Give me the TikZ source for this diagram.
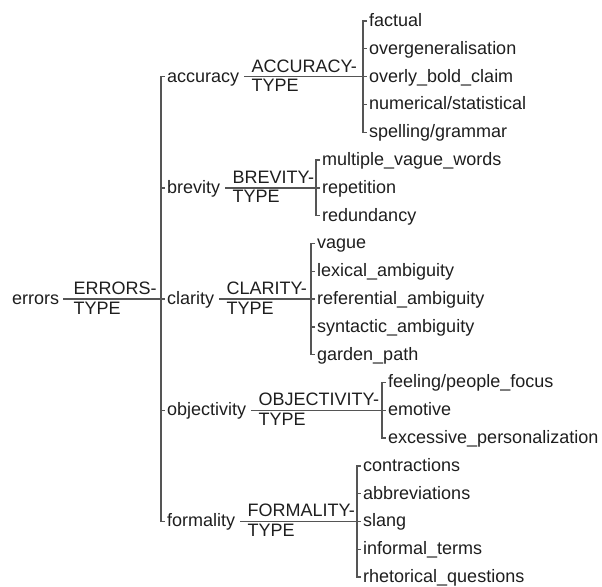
\documentclass[tikz,border=0pt]{standalone}
\usepackage{fontspec}
\setmainfont{Liberation Sans}
\definecolor{txt}{HTML}{1E1E1E}
\definecolor{lc}{HTML}{555555}
\begin{document}
\begin{tikzpicture}[x=1pt,y=-1pt,
 lbl/.style={font=\fontsize{18}{20}\selectfont, text=txt, inner ysep=0pt, inner xsep=2pt, text height=14pt, text depth=3pt, anchor=west},
 frac/.style={font=\fontsize{18}{20}\selectfont, text=txt, inner sep=0pt, anchor=base west},
 ln/.style={draw=lc, line width=1.4pt}]
\useasboundingbox (0,0) rectangle (602,586);
% root and categories
\node[lbl] (root) at (10,299) {errors};
\node[lbl] (acc) at (165,76.6) {accuracy};
\node[lbl] (brev) at (165,187.8) {brevity};
\node[lbl] (clar) at (165,299.0) {clarity};
\node[lbl] (obj) at (165,410.2) {objectivity};
\node[lbl] (form) at (165,521.4) {formality};
% leaves: accuracy
\node[lbl] (a0) at (367,21.0) {factual};
\node[lbl] (a1) at (367,48.8) {overgeneralisation};
\node[lbl] (a2) at (367,76.6) {overly\_bold\_claim};
\node[lbl] (a3) at (367,104.4) {numerical/statistical};
\node[lbl] (a4) at (367,132.2) {spelling/grammar};
% brevity
\node[lbl] (b0) at (320,160.0) {multiple\_vague\_words};
\node[lbl] (b1) at (320,187.8) {repetition};
\node[lbl] (b2) at (320,215.6) {redundancy};
% clarity
\node[lbl] (c0) at (315,243.4) {vague};
\node[lbl] (c1) at (315,271.2) {lexical\_ambiguity};
\node[lbl] (c2) at (315,299.0) {referential\_ambiguity};
\node[lbl] (c3) at (315,326.8) {syntactic\_ambiguity};
\node[lbl] (c4) at (315,354.6) {garden\_path};
% objectivity
\node[lbl] (o0) at (386,382.4) {feeling/people\_focus};
\node[lbl] (o1) at (386,410.2) {emotive};
\node[lbl] (o2) at (386,438.0) {excessive\_personalization};
% formality
\node[lbl] (f0) at (361,465.8) {contractions};
\node[lbl] (f1) at (361,493.6) {abbreviations};
\node[lbl] (f2) at (361,521.4) {slang};
\node[lbl] (f3) at (361,549.2) {informal\_terms};
\node[lbl] (f4) at (361,577.0) {rhetorical\_questions};
% bracket x positions
\coordinate (T) at (161,0);
\coordinate (AB) at (363,0);
\coordinate (BB) at (316,0);
\coordinate (CB) at (311,0);
\coordinate (OB) at (382,0);
\coordinate (FB) at (357,0);
% top bracket
\draw[ln] (acc.west) -- (T|-acc.west) -- (T|-form.west) -- (form.west);
\draw[ln] (T|-brev.west) -- (brev.west);
\draw[ln] (T|-obj.west) -- (obj.west);
\draw[ln] ([xshift=2pt]root.east) -- (clar.west);
\node[frac] (rootU) at ([xshift=12pt,yshift=4.5pt]root.east) {ERRORS-};
\node[frac] (rootL) at ([xshift=12pt,yshift=-15pt]root.east) {TYPE};
% accuracy
\draw[ln] (a0.west) -- (AB|-a0.west) -- (AB|-a4.west) -- (a4.west);
\draw[ln] (AB|-a1.west) -- (a1.west);
\draw[ln] (AB|-a3.west) -- (a3.west);
\draw[ln] ([xshift=3pt]acc.east) -- (a2.west);
\node[frac] (accU) at ([xshift=10pt,yshift=4.5pt]acc.east) {ACCURACY-};
\node[frac] (accL) at ([xshift=10pt,yshift=-15pt]acc.east) {TYPE};
% brevity
\draw[ln] (b0.west) -- (BB|-b0.west) -- (BB|-b2.west) -- (b2.west);
\draw[ln] ([xshift=3pt]brev.east) -- (b1.west);
\node[frac] (brevU) at ([xshift=10pt,yshift=4.5pt]brev.east) {BREVITY-};
\node[frac] (brevL) at ([xshift=10pt,yshift=-15pt]brev.east) {TYPE};
% clarity
\draw[ln] (c0.west) -- (CB|-c0.west) -- (CB|-c4.west) -- (c4.west);
\draw[ln] (CB|-c1.west) -- (c1.west);
\draw[ln] (CB|-c3.west) -- (c3.west);
\draw[ln] ([xshift=3pt]clar.east) -- (c2.west);
\node[frac] (clarU) at ([xshift=10pt,yshift=4.5pt]clar.east) {CLARITY-};
\node[frac] (clarL) at ([xshift=10pt,yshift=-15pt]clar.east) {TYPE};
% objectivity
\draw[ln] (o0.west) -- (OB|-o0.west) -- (OB|-o2.west) -- (o2.west);
\draw[ln] ([xshift=3pt]obj.east) -- (o1.west);
\node[frac] (objU) at ([xshift=10pt,yshift=4.5pt]obj.east) {OBJECTIVITY-};
\node[frac] (objL) at ([xshift=10pt,yshift=-15pt]obj.east) {TYPE};
% formality
\draw[ln] (f0.west) -- (FB|-f0.west) -- (FB|-f4.west) -- (f4.west);
\draw[ln] (FB|-f1.west) -- (f1.west);
\draw[ln] (FB|-f3.west) -- (f3.west);
\draw[ln] ([xshift=3pt]form.east) -- (f2.west);
\node[frac] (formU) at ([xshift=10pt,yshift=4.5pt]form.east) {FORMALITY-};
\node[frac] (formL) at ([xshift=10pt,yshift=-15pt]form.east) {TYPE};
\end{tikzpicture}
\end{document}
